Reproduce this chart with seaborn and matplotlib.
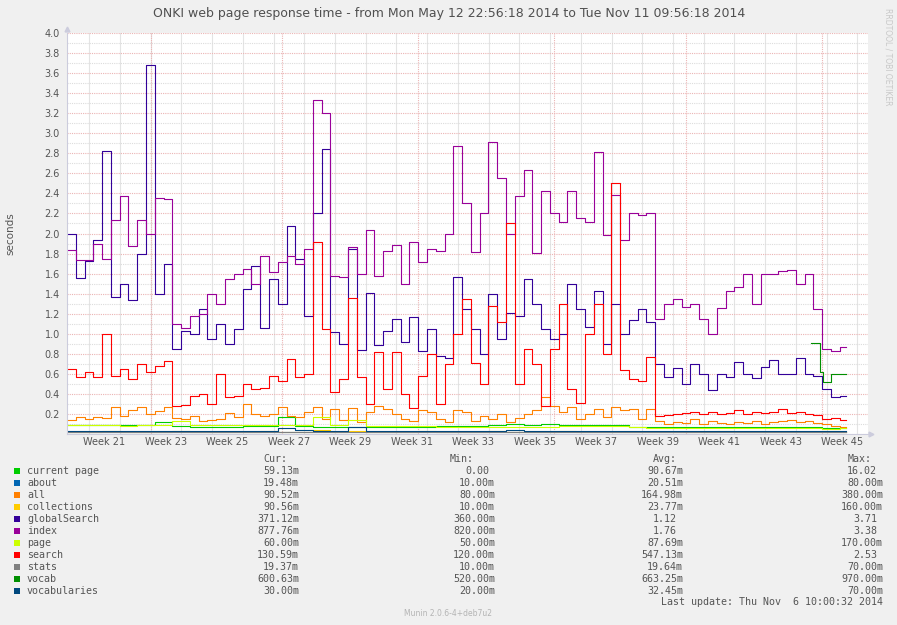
"""
Munin style chart: ONKI web page response time (May - Nov 2014).
Step lines per page with the Cur/Min/Avg/Max table below the plot.
"""

# ================== IMPORTS ================== #
import numpy as np
import pandas as pd
import matplotlib
matplotlib.use("Agg")
import matplotlib.pyplot as plt
from matplotlib.patches import Rectangle
from matplotlib.ticker import MultipleLocator
import seaborn as sns

# ================== DATA ================== #
start = pd.Timestamp("2014-05-12 22:56:18")
end = pd.Timestamp("2014-11-11 09:56:18")
last_update = pd.Timestamp("2014-11-06 10:00:32")

names = ["current page", "about", "all", "collections", "globalSearch", "index",
         "page", "search", "stats", "vocab", "vocabularies"]
colors = ["#00CC00", "#0066B3", "#FF8000", "#FFCC00", "#330099", "#990099",
          "#CCFF00", "#FF0000", "#808080", "#008F00", "#00487D"]

cur = ["59.13m", "19.48m", "90.52m", "90.56m", "371.12m", "877.76m", "60.00m", "130.59m", "19.37m", "600.63m", "30.00m"]
mins = ["0.00", "10.00m", "80.00m", "10.00m", "360.00m", "820.00m", "50.00m", "120.00m", "10.00m", "520.00m", "20.00m"]
avgs = ["90.67m", "20.51m", "164.98m", "23.77m", "1.12", "1.76", "87.69m", "547.13m", "19.64m", "663.25m", "32.45m"]
maxs = ["16.02", "80.00m", "380.00m", "160.00m", "3.71", "3.38", "170.00m", "2.53", "70.00m", "970.00m", "70.00m"]

# sample days (days since start) - 2-day samples for the big series, 4-day for the small ones
days_2 = np.arange(0, 178, 2)
days_4 = np.arange(0, 178, 4)

global_search = [2.0, 1.56, 1.73, 1.94, 2.82, 1.37, 1.5, 1.34, 1.8, 3.68,
                 1.4, 1.7, 0.85, 1.03, 1.0, 1.25, 0.95, 1.1, 0.9, 1.05,
                 1.45, 1.68, 1.06, 1.55, 1.3, 2.07, 1.75, 1.18, 2.2, 2.84,
                 1.02, 0.9, 1.85, 0.84, 1.41, 0.89, 1.03, 1.15, 0.92, 1.17,
                 0.83, 1.05, 0.78, 0.76, 1.57, 1.25, 1.05, 0.8, 1.4, 0.95,
                 1.21, 1.18, 1.55, 1.3, 1.05, 0.95, 1.0, 1.5, 1.25, 1.07,
                 1.43, 0.9, 1.3, 1.0, 1.14, 1.25, 1.12, 0.7, 0.57, 0.66,
                 0.5, 0.7, 0.6, 0.44, 0.6, 0.57, 0.72, 0.6, 0.56, 0.67,
                 0.74, 0.6, 0.6, 0.76, 0.6, 0.58, 0.45, 0.37, 0.38]
index = [1.84, 1.74, 1.74, 1.9, 1.75, 2.13, 2.37, 1.88, 2.13, 2.0,
         2.35, 2.34, 1.1, 1.06, 1.18, 1.2, 1.4, 1.3, 1.55, 1.6,
         1.65, 1.5, 1.78, 1.62, 1.72, 1.78, 1.7, 1.85, 3.33, 3.2,
         1.58, 1.57, 1.87, 1.6, 2.03, 1.58, 1.83, 1.89, 1.5, 1.92,
         1.72, 1.85, 1.83, 2.0, 2.87, 2.3, 1.82, 2.2, 2.91, 2.55,
         2.0, 2.37, 2.63, 1.81, 2.42, 2.2, 2.11, 2.42, 2.15, 2.11,
         2.81, 1.99, 2.38, 1.94, 2.2, 2.18, 2.2, 1.15, 1.3, 1.35,
         1.27, 1.3, 1.15, 1.0, 1.26, 1.43, 1.47, 1.6, 1.3, 1.6,
         1.6, 1.63, 1.64, 1.5, 1.6, 1.25, 0.85, 0.83, 0.87]
search = [0.65, 0.57, 0.62, 0.57, 1.0, 0.58, 0.65, 0.55, 0.7, 0.62,
          0.68, 0.73, 0.28, 0.29, 0.38, 0.4, 0.3, 0.6, 0.37, 0.38,
          0.5, 0.45, 0.46, 0.58, 0.53, 0.75, 0.57, 0.6, 1.92, 1.05,
          0.42, 0.55, 1.36, 0.57, 0.3, 0.82, 0.45, 0.82, 0.4, 0.26,
          0.58, 0.8, 0.3, 0.7, 1.0, 1.35, 0.71, 0.5, 1.28, 1.12,
          2.1, 0.5, 0.85, 0.7, 0.28, 0.85, 1.3, 0.45, 0.31, 1.0,
          1.3, 0.8, 2.5, 0.64, 0.55, 0.53, 0.77, 0.18, 0.19, 0.2,
          0.21, 0.22, 0.2, 0.22, 0.2, 0.21, 0.24, 0.2, 0.22, 0.21,
          0.22, 0.25, 0.21, 0.22, 0.2, 0.19, 0.15, 0.16, 0.14]
all_pages = [0.14, 0.17, 0.15, 0.17, 0.16, 0.27, 0.18, 0.24, 0.27, 0.2,
             0.23, 0.27, 0.16, 0.15, 0.18, 0.13, 0.14, 0.15, 0.21, 0.17,
             0.3, 0.2, 0.18, 0.2, 0.27, 0.18, 0.17, 0.22, 0.27, 0.15,
             0.25, 0.14, 0.26, 0.12, 0.22, 0.28, 0.25, 0.2, 0.15, 0.13,
             0.24, 0.22, 0.15, 0.12, 0.24, 0.22, 0.13, 0.18, 0.15, 0.2,
             0.12, 0.16, 0.2, 0.24, 0.37, 0.28, 0.22, 0.27, 0.15, 0.2,
             0.25, 0.17, 0.27, 0.24, 0.25, 0.15, 0.25, 0.13, 0.1, 0.12,
             0.11, 0.15, 0.1, 0.13, 0.11, 0.1, 0.12, 0.11, 0.13, 0.1,
             0.12, 0.13, 0.14, 0.12, 0.13, 0.11, 0.1, 0.08, 0.07]

page = [0.09, 0.09, 0.09, 0.08, 0.09, 0.09, 0.13, 0.09, 0.09, 0.09,
        0.09, 0.09, 0.09, 0.09, 0.17, 0.09, 0.14, 0.08, 0.08, 0.08,
        0.08, 0.07, 0.07, 0.07, 0.07, 0.07, 0.07, 0.07, 0.08, 0.08,
        0.08, 0.08, 0.07, 0.06, 0.06, 0.06, 0.06, 0.06, 0.06, 0.06,
        0.06, 0.06, 0.06, 0.05, 0.06]
current_page = [0.09, 0.09, 0.09, 0.09, 0.09, 0.12, 0.08, 0.07, 0.07, 0.07,
                0.08, 0.08, 0.17, 0.08, 0.07, 0.07, 0.07, 0.07, 0.07, 0.07,
                0.07, 0.08, 0.08, 0.08, 0.09, 0.1, 0.09, 0.1, 0.09, 0.09,
                0.09, 0.09, 0.07, 0.07, 0.07, 0.07, 0.07, 0.07, 0.07, 0.07,
                0.07, 0.07, 0.07, 0.06, 0.06]
collections = [0.02, 0.02, 0.03, 0.02, 0.02, 0.02, 0.03, 0.02, 0.02, 0.02,
               0.02, 0.03, 0.02, 0.02, 0.04, 0.02, 0.03, 0.02, 0.02, 0.02,
               0.03, 0.02, 0.02, 0.02, 0.03, 0.02, 0.02, 0.02, 0.03, 0.02,
               0.02, 0.02, 0.02, 0.02, 0.02, 0.02, 0.02, 0.03, 0.02, 0.02,
               0.02, 0.02, 0.02, 0.02, 0.02]
about = [0.02, 0.02, 0.02, 0.02, 0.02, 0.02, 0.02, 0.02, 0.02, 0.02,
         0.02, 0.02, 0.02, 0.02, 0.02, 0.02, 0.02, 0.02, 0.02, 0.02,
         0.02, 0.02, 0.02, 0.02, 0.02, 0.02, 0.02, 0.02, 0.02, 0.02,
         0.02, 0.02, 0.02, 0.02, 0.02, 0.02, 0.02, 0.02, 0.02, 0.02,
         0.02, 0.02, 0.02, 0.02, 0.02]
stats = [0.02, 0.02, 0.02, 0.02, 0.02, 0.02, 0.02, 0.02, 0.02, 0.02,
         0.02, 0.02, 0.02, 0.02, 0.02, 0.02, 0.02, 0.02, 0.02, 0.02,
         0.02, 0.02, 0.02, 0.02, 0.02, 0.02, 0.02, 0.02, 0.02, 0.02,
         0.02, 0.02, 0.02, 0.02, 0.02, 0.02, 0.02, 0.02, 0.02, 0.02,
         0.02, 0.02, 0.02, 0.02, 0.02]
vocabularies = [0.03, 0.03, 0.03, 0.03, 0.03, 0.03, 0.03, 0.03, 0.03, 0.03,
                0.03, 0.03, 0.06, 0.04, 0.03, 0.03, 0.07, 0.03, 0.03, 0.03,
                0.03, 0.03, 0.03, 0.03, 0.03, 0.04, 0.03, 0.03, 0.03, 0.03,
                0.03, 0.03, 0.03, 0.03, 0.03, 0.03, 0.03, 0.03, 0.03, 0.03,
                0.03, 0.03, 0.03, 0.03, 0.03]

# vocab only exists at the very end of the period
vocab_days = [169.5, 171.6, 172.3, 174.0]
vocab = [0.91, 0.62, 0.52, 0.60]

# ================== DATAFRAME ================== #
data_end = (last_update - start) / pd.Timedelta(days=1)
total_days = (end - start) / pd.Timedelta(days=1)


def to_frame(name, days, values):
    # repeat last value so the final step reaches the last update
    return pd.DataFrame({"day": list(days) + [data_end],
                         "value": list(values) + [values[-1]],
                         "series": name})


df = pd.concat([
    to_frame("current page", days_4, current_page),
    to_frame("about", days_4, about),
    to_frame("all", days_2, all_pages),
    to_frame("collections", days_4, collections),
    to_frame("globalSearch", days_2, global_search),
    to_frame("index", days_2, index),
    to_frame("page", days_4, page),
    to_frame("search", days_2, search),
    to_frame("stats", days_4, stats),
    to_frame("vocab", vocab_days, vocab),
    to_frame("vocabularies", days_4, vocabularies),
], ignore_index=True)

# ================== FIGURE ================== #
W, H = 897, 625
BG = "#F0F0F0"
TXT = "#555555"
AXIS = "#CCCCDD"


def fx(px):
    return px / W


def fy(py):
    return 1 - py / H


fig = plt.figure(figsize=(W / 100, H / 100), dpi=100, facecolor=BG)
ax = fig.add_axes([fx(67), fy(434), (868 - 67) / W, (434 - 33) / H])
ax.set_facecolor("white")

sns.lineplot(data=df, x="day", y="value", hue="series", hue_order=names,
             palette=dict(zip(names, colors)), drawstyle="steps-post",
             estimator=None, sort=True, legend=False, linewidth=0.8, ax=ax)

ax.set_xlim(0, total_days)
ax.set_ylim(0, 4.0)

# ---- y axis: labels every 0.2, minor grid every 0.1
ax.set_yticks(np.arange(2, 41, 2) / 10)
ax.set_yticklabels([f"{v:.1f}" for v in np.arange(2, 41, 2) / 10])
ax.yaxis.set_minor_locator(MultipleLocator(0.1))
ax.grid(axis="y", which="major", color="#EBB4B4", linestyle=(0, (1, 1)), linewidth=0.8)
ax.grid(axis="y", which="minor", color="#DCDCDC", linestyle=(0, (1, 1)), linewidth=0.8)
ax.set_axisbelow(True)

# ---- x axis: week gridlines (Sunday), month gridlines, labels mid-week
sundays = pd.date_range("2014-05-18", end, freq="7D")
for s in sundays:
    ax.axvline((s - start) / pd.Timedelta(days=1), color="#E4E4E4", linewidth=0.8, zorder=0.5)
for m in pd.date_range("2014-06-01", end, freq="MS"):
    ax.axvline((m - start) / pd.Timedelta(days=1), color="#EBB4B4",
               linestyle=(0, (1, 1)), linewidth=0.8, zorder=0.6)

label_weeks = sundays[::2]
ax.set_xticks([(s - start) / pd.Timedelta(days=1) + 3.5 for s in label_weeks])
ax.set_xticklabels([f"Week {(s + pd.Timedelta(days=1)).isocalendar().week}" for s in label_weeks])

ax.tick_params(axis="both", which="both", length=0, labelsize=7, labelcolor=TXT)
ax.tick_params(axis="y", pad=5)
ax.tick_params(axis="x", pad=2.5)
ax.set_xlabel("")
ax.set_ylabel("seconds", fontsize=7.5, color=TXT, labelpad=21)

for side in ["top", "right"]:
    ax.spines[side].set_visible(False)
for side in ["left", "bottom"]:
    ax.spines[side].set_color(AXIS)
    ax.spines[side].set_linewidth(0.8)
ax.plot([0], [1.01], marker="^", markersize=3.5, color=AXIS, transform=ax.transAxes, clip_on=False)
ax.plot([1.004], [0], marker=">", markersize=3.5, color=AXIS, transform=ax.transAxes, clip_on=False)

# ================== TEXTS ================== #
fig.text(fx(449), fy(13), "ONKI web page response time - from Mon May 12 22:56:18 2014 to Tue Nov 11 09:56:18 2014",
         ha="center", va="center", fontsize=9, color="#505050")
fig.text(fx(888), fy(57), "RRDTOOL / TOBI OETIKER", rotation=270, ha="center", va="center",
         fontsize=5.5, color="#C8C8C8")

# ---- legend table (monospace like rrdtool)
MONO = dict(family="DejaVu Sans Mono", fontsize=7.2, color=TXT, va="center")
CW = 6.0  # width of one monospace char in pixels

headers = [("Cur:", 263), ("Min:", 450), ("Avg:", 653), ("Max:", 848)]
for txt, x in headers:
    fig.text(fx(x), fy(459), txt, ha="left", **MONO)

columns = [(cur, 299), (mins, 495), (avgs, 683), (maxs, 883)]
for k, name in enumerate(names):
    y = 470.5 + 12 * k
    fig.add_artist(Rectangle((fx(14), fy(y + 3)), 6 / W, 6 / H, transform=fig.transFigure,
                             facecolor=colors[k], edgecolor="none"))
    fig.text(fx(27), fy(y), name, ha="left", **MONO)
    for values, right in columns:
        v = values[k]
        shift = 0 if v.endswith("m") else CW
        fig.text(fx(right - shift), fy(y), v, ha="right", **MONO)

fig.text(fx(883), fy(602), "Last update: Thu Nov  6 10:00:32 2014", ha="right", **MONO)
fig.text(fx(448), fy(614), "Munin 2.0.6-4+deb7u2", ha="center", va="center", fontsize=5.5, color="#B4B4B4")

fig.savefig("out.png", dpi=100, facecolor=BG)
